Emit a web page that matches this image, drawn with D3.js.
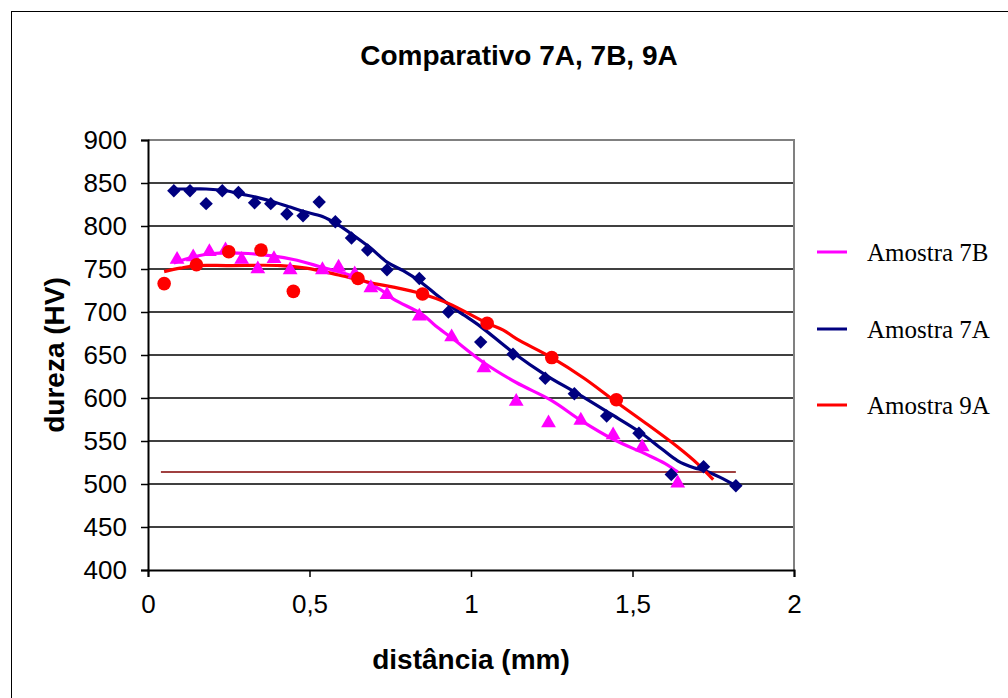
<!DOCTYPE html>
<html>
<head>
<meta charset="utf-8">
<script src="https://cdn.jsdelivr.net/npm/d3@7"></script>
<style>
  body { margin: 0; background: #fff; }
  svg { display: block; }
  .tick-label { font-family: "Liberation Sans", Arial, sans-serif; font-size: 26px; fill: #000; }
  .axis-title { font-family: "Liberation Sans", Arial, sans-serif; font-size: 28px; font-weight: bold; fill: #000; }
  .legend-label { font-family: "Liberation Serif", "Times New Roman", serif; font-size: 25px; fill: #000; }
</style>
</head>
<body>
<svg id="chart"></svg>
<script>
// measured points (distância mm / dureza HV)
const dist7A = [0.08, 0.13, 0.18, 0.23, 0.28, 0.33, 0.38, 0.43, 0.48, 0.53, 0.58, 0.63, 0.68, 0.74, 0.84, 0.93, 1.03, 1.13, 1.23, 1.32, 1.42, 1.52, 1.62, 1.72, 1.82];
const hard7A = [841, 841, 826, 841, 839, 827, 826, 814, 812, 828, 805, 786, 772, 749, 739, 700, 665, 651, 623, 605, 579, 559, 511, 520, 498];

const dist7B = [0.09, 0.14, 0.19, 0.24, 0.29, 0.34, 0.39, 0.44, 0.54, 0.59, 0.64, 0.69, 0.74, 0.84, 0.94, 1.04, 1.14, 1.24, 1.34, 1.44, 1.53, 1.64];
const hard7B = [761, 764, 770, 772, 761, 750, 762, 749, 749, 752, 744, 728, 720, 695, 671, 635, 596, 571, 574, 557, 543, 501];

const dist9A = [0.05, 0.15, 0.25, 0.35, 0.45, 0.65, 0.85, 1.05, 1.25, 1.45];
const hard9A = [733, 755, 770, 772, 724, 739, 721, 687, 647, 598];

// trend lines
const trendX7A = [0.08, 0.13, 0.18, 0.24, 0.29, 0.34, 0.39, 0.44, 0.48, 0.54, 0.59, 0.64, 0.69, 0.74, 0.79, 0.84, 0.89, 0.94, 0.98, 1.03, 1.13, 1.23, 1.33, 1.43, 1.52, 1.59, 1.64, 1.69, 1.72, 1.77, 1.82];
const trendY7A = [843, 843, 843, 841, 837, 833, 828, 822, 817, 811, 801, 788, 774, 758, 748, 736, 721, 706, 696, 683, 653, 627, 605, 582, 561, 541, 527, 519, 516, 508, 498];

const trendX7B = [0.08, 0.14, 0.2, 0.31, 0.39, 0.45, 0.53, 0.64, 0.72, 0.76, 0.85, 0.89, 0.94, 1.04, 1.14, 1.25, 1.34, 1.44, 1.54, 1.6, 1.64];
const trendY7B = [757, 764, 768, 768, 765, 761, 753, 741, 726, 715, 697, 684, 670, 641, 618, 597, 574, 552, 535, 524, 514];

const trendX9A = [0.05, 0.1, 0.15, 0.25, 0.41, 0.49, 0.59, 0.7, 0.76, 0.85, 0.93, 1.05, 1.1, 1.14, 1.25, 1.35, 1.44, 1.54, 1.64, 1.7, 1.75];
const trendY9A = [747, 751, 754, 754, 754, 751, 743, 733, 729, 721, 710, 687, 679, 669, 647, 623, 598, 571, 543, 524, 505];

// horizontal reference line
const limitX = [0.04, 1.82];
const limitY = [514, 514];

const legendNames = ['Amostra 7B', 'Amostra 7A', 'Amostra 9A'];
const xTicks = [0, 0.5, 1, 1.5, 2];
const yTicks = [400, 450, 500, 550, 600, 650, 700, 750, 800, 850, 900];

const zip = (xs, ys) => xs.map((x, i) => ({ x: x, y: ys[i] }));

const series = [
    { name: legendNames[0], color: '#ff00ff', marker: 'triangle', points: zip(dist7B, hard7B), trend: zip(trendX7B, trendY7B) },
    { name: legendNames[1], color: '#000080', marker: 'diamond', points: zip(dist7A, hard7A), trend: zip(trendX7A, trendY7A) },
    { name: legendNames[2], color: '#ff0000', marker: 'circle', points: zip(dist9A, hard9A), trend: zip(trendX9A, trendY9A) }
];

const width = 1008, height = 698;
const svg = d3.select('#chart').attr('width', width).attr('height', height);

// outer frame of the chart object (runs off the picture right and bottom)
svg.append('rect')
    .attr('x', 11.5).attr('y', 11.5)
    .attr('width', 1100).attr('height', 800)
    .attr('fill', 'none').attr('stroke', '#000').attr('stroke-width', 1);

const x = d3.scaleLinear().domain([0, 2]).range([148, 794]);
const y = d3.scaleLinear().domain([400, 900]).range([570, 140]);

// gridlines
svg.append('g').selectAll('line')
    .data(yTicks.slice(1, -1))
    .join('line')
    .attr('x1', x(0)).attr('x2', x(2))
    .attr('y1', d => y(d)).attr('y2', d => y(d))
    .attr('stroke', '#000').attr('stroke-width', 1.5);

// plot area border, top and right
svg.append('path')
    .attr('d', `M${x(0)},${y(900)}H${x(2)}V${y(400)}`)
    .attr('fill', 'none').attr('stroke', '#808080').attr('stroke-width', 2);

// axes
const yAxis = svg.append('g')
    .attr('transform', `translate(${x(0)},0)`)
    .call(d3.axisLeft(y).tickValues(yTicks).tickSize(7).tickPadding(14).tickFormat(d3.format('d')));
const xAxis = svg.append('g')
    .attr('transform', `translate(0,${y(400)})`)
    .call(d3.axisBottom(x).tickValues(xTicks).tickSize(7).tickPadding(18).tickFormat(d => String(d).replace('.', ',')));

[yAxis, xAxis].forEach(a => {
    a.attr('font-size', null).attr('font-family', null);
    a.select('.domain').attr('stroke', '#000').attr('stroke-width', 2);
    a.selectAll('.tick line').attr('stroke', '#000').attr('stroke-width', 1.5);
    a.selectAll('.tick text').attr('class', 'tick-label');
});

// reference line
const line = d3.line().x(d => x(d.x)).y(d => y(d.y));
svg.append('path')
    .attr('d', line(zip(limitX, limitY)))
    .attr('fill', 'none').attr('stroke', '#800000').attr('stroke-width', 1.5);

// trend lines
const trendLine = d3.line().x(d => x(d.x)).y(d => y(d.y)).curve(d3.curveCatmullRom);
svg.append('g').selectAll('path')
    .data(series)
    .join('path')
    .attr('d', d => trendLine(d.trend))
    .attr('fill', 'none')
    .attr('stroke', d => d.color)
    .attr('stroke-width', 3.2)
    .attr('stroke-linejoin', 'round');

// markers
const symbols = {
    triangle: d3.symbol().type(d3.symbolTriangle).size(95),
    diamond: d3.symbol().type(d3.symbolSquare).size(90),
    circle: d3.symbol().type(d3.symbolCircle).size(145)
};
series.forEach(s => {
    svg.append('g').selectAll('path')
        .data(s.points)
        .join('path')
        .attr('d', symbols[s.marker]())
        .attr('transform', d => `translate(${x(d.x)},${y(d.y)})` + (s.marker === 'diamond' ? ' rotate(45)' : ''))
        .attr('fill', s.color);
});

// titles
svg.append('text')
    .attr('class', 'axis-title')
    .attr('x', 519).attr('y', 65)
    .attr('text-anchor', 'middle')
    .text('Comparativo 7A, 7B, 9A');

svg.append('text')
    .attr('class', 'axis-title')
    .attr('x', 471).attr('y', 669)
    .attr('text-anchor', 'middle')
    .text('distância (mm)');

svg.append('text')
    .attr('class', 'axis-title')
    .attr('transform', 'translate(64,355) rotate(-90)')
    .attr('text-anchor', 'middle')
    .text('dureza (HV)');

// legend
const legend = svg.append('g').selectAll('g')
    .data(series)
    .join('g')
    .attr('transform', (d, i) => `translate(817,${[252, 329, 405][i]})`);
legend.append('line')
    .attr('x1', 0).attr('x2', 30)
    .attr('stroke', d => d.color).attr('stroke-width', 3);
legend.append('text')
    .attr('class', 'legend-label')
    .attr('x', 50).attr('y', 9)
    .text(d => d.name);
</script>
</body>
</html>
